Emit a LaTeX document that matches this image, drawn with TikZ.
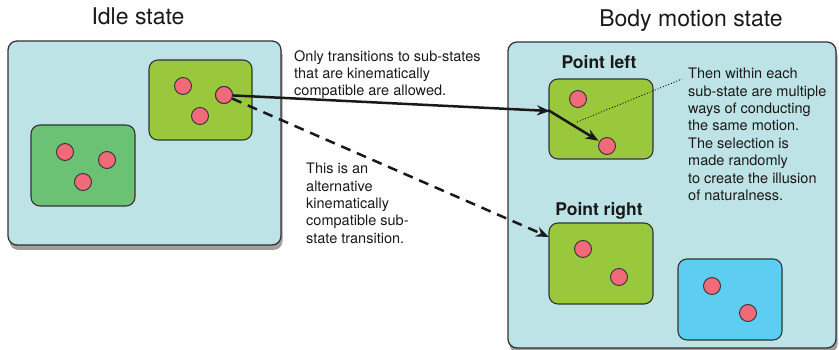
\documentclass[tikz,border=0pt]{standalone}
\usepackage{fontspec}
\setmainfont{TeX Gyre Heros}
\usetikzlibrary{arrows.meta,shadows}
\definecolor{bgblue}{HTML}{BEE3E6}
\definecolor{limeg}{HTML}{9AC83C}
\definecolor{darkg}{HTML}{6CC274}
\definecolor{skyb}{HTML}{5ECDF2}
\definecolor{dotred}{HTML}{F06A7A}
\definecolor{edge}{HTML}{333333}
\tikzset{
  bigbox/.style={draw=edge, line width=1.3pt, fill=bgblue, rounded corners=9pt,
     drop shadow={shadow xshift=1.5pt, shadow yshift=-5pt, opacity=0.5, fill=black!75}},
  subbox/.style={draw=edge, line width=1.1pt, rounded corners=9pt},
  dot/.style={circle, draw=edge, line width=0.9pt, fill=dotred, minimum size=17pt, inner sep=0pt},
  note/.style={align=left, inner sep=0pt, text=black!90, font=\fontsize{14.5}{17.4}\selectfont},
  title/.style={inner sep=0pt, text=black!90, font=\fontsize{23}{26}\selectfont},
  subtitle/.style={inner sep=0pt, text=black!90, font=\fontsize{17.5}{20}\selectfont\bfseries},
  arr/.style={line width=2.5pt, black!90, -{Stealth[length=13pt,width=10pt]}},
}
\begin{document}
\begin{tikzpicture}[x=1pt,y=-1pt]
\useasboundingbox (0,0) rectangle (839,350);
% titles
\node[title, anchor=base] (t1) at (138,25) {Idle state};
\node[title, anchor=base] (t2) at (691,27) {Body motion state};
% big boxes
\path[bigbox] (8,41) rectangle (281,245);
\path[bigbox] (508,42) rectangle (836,348);
% idle sub-boxes
\path[subbox, fill=limeg] (149,60) rectangle (252,140);
\path[subbox, fill=darkg] (31,125) rectangle (135,206);
\node[dot] (a1) at (183,86) {};
\node[dot] (a2) at (224,95) {};
\node[dot] (a3) at (200,116) {};
\node[dot] (b1) at (65,152) {};
\node[dot] (b2) at (107,160) {};
\node[dot] (b3) at (83,182) {};
% body motion sub-boxes
\node[subtitle, anchor=base] (plt) at (599,69) {Point left};
\node[subtitle, anchor=base] (prt) at (599,215) {Point right};
\path[subbox, fill=limeg] (549,79) rectangle (653,159);
\path[subbox, fill=limeg] (549,223) rectangle (653,304);
\path[subbox, fill=skyb] (678,259) rectangle (782,340);
\node[dot] (p1) at (578,99) {};
\node[dot] (p2) at (607,146) {};
\node[dot] (r1) at (583,249) {};
\node[dot] (r2) at (619,277) {};
\node[dot] (s1) at (712,286) {};
\node[dot] (s2) at (748,313) {};
% texts
\node[note, anchor=north west] (n1) at (294,50) {Only transitions to sub-states\\that are kinematically\\compatible are allowed.};
\node[note, anchor=north west] (n2) at (306,163) {This is an\\alternative\\kinematically\\compatible sub-\\state transition.};
\node[note, anchor=north west] (n3) at (688,68) {Then within each\\sub-state are multiple\\ways of conducting\\the same motion.\\The selection is\\made randomly\\to create the illusion\\of naturalness.};
% connectors
\coordinate (e1) at (550,111);
\coordinate (e1b) at (548,110);
\coordinate (e2) at (549,237);
\coordinate (d1) at (577,122);
\coordinate (d2) at (682,79);
\draw[line width=0.9pt, dotted] (d1) -- (d2);
\draw[arr] (a2.center) -- (e1);
\draw[arr, shorten >=1pt] (e1b) -- (p2);
\draw[arr, dash pattern=on 10pt off 7pt] (a2) -- (e2);
\node[dot] at (a2) {};
\end{tikzpicture}
\end{document}
